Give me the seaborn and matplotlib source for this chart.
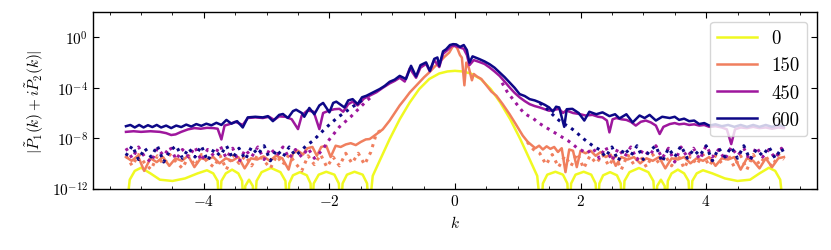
import numpy as np
import pandas as pd
import matplotlib
matplotlib.use("Agg")
import matplotlib.pyplot as plt
from matplotlib.ticker import MultipleLocator, FixedLocator, NullLocator
import seaborn as sns

# values as (k, log10|P1 + i P2|)
times = [0, 150, 450, 600]
colors = ["#f0f921", "#f07f5e", "#9e179d", "#0d0887"]

spec_0 = [
    (-5.24, -14), (-5.18, -11.3), (-5.10, -10.6), (-5.00, -10.35), (-4.85, -10.8), (-4.70, -11.3),
    (-4.50, -11.4), (-4.30, -11.2), (-4.10, -10.8), (-3.95, -10.55), (-3.85, -10.8), (-3.78, -11.4),
    (-3.75, -14), (-3.72, -11.4), (-3.65, -10.8), (-3.55, -10.5), (-3.45, -10.8), (-3.39, -11.4),
    (-3.36, -14), (-3.34, -11.8), (-3.28, -11.3), (-3.22, -11.8), (-3.20, -14), (-3.16, -11.4),
    (-3.08, -10.7), (-2.93, -10.37), (-2.78, -10.7), (-2.70, -11.4), (-2.67, -14), (-2.64, -11.6),
    (-2.58, -10.95), (-2.47, -10.7), (-2.36, -10.95), (-2.30, -11.6), (-2.28, -14), (-2.25, -11.6),
    (-2.17, -10.9), (-2.05, -10.67), (-1.92, -10.9), (-1.85, -11.6), (-1.82, -14), (-1.79, -11.6),
    (-1.72, -10.9), (-1.60, -10.67), (-1.47, -10.9), (-1.40, -11.6), (-1.37, -14), (-1.31, -11.0),
    (-1.20, -9.8), (-1.04, -8.07), (-0.88, -6.5), (-0.72, -5.16), (-0.57, -4.1), (-0.41, -3.3),
    (-0.25, -2.86), (-0.12, -2.7), (0.0, -2.65), (0.12, -2.7), (0.25, -2.86), (0.41, -3.3),
    (0.57, -4.1), (0.72, -5.16), (0.88, -6.5), (1.04, -8.07), (1.20, -9.8), (1.31, -11.0),
    (1.37, -14), (1.40, -11.6), (1.47, -10.9), (1.60, -10.67), (1.72, -10.9), (1.79, -11.6),
    (1.82, -14), (1.85, -11.6), (1.92, -10.9), (2.05, -10.67), (2.17, -10.9), (2.24, -11.6),
    (2.27, -14), (2.30, -11.6), (2.36, -10.95), (2.47, -10.7), (2.58, -10.95), (2.64, -11.6),
    (2.67, -14), (2.70, -11.4), (2.78, -10.7), (2.93, -10.37), (3.08, -10.7), (3.16, -11.4),
    (3.20, -14), (3.22, -11.8), (3.28, -11.3), (3.34, -11.8), (3.36, -14), (3.39, -11.4),
    (3.45, -10.8), (3.55, -10.5), (3.65, -10.8), (3.72, -11.4), (3.75, -14), (3.78, -11.4),
    (3.85, -10.8), (3.95, -10.55), (4.10, -10.8), (4.30, -11.2), (4.50, -11.4), (4.70, -11.3),
    (4.85, -10.8), (5.00, -10.35), (5.10, -10.6), (5.18, -11.3), (5.24, -14),
]

spec_150 = [
    (-5.24, -9.5), (-5.15, -9.8), (-5.05, -9.4), (-4.95, -10.6), (-4.85, -9.6), (-4.75, -9.9),
    (-4.65, -9.5), (-4.55, -10.2), (-4.45, -9.6), (-4.35, -9.8), (-4.25, -9.4), (-4.15, -10.3),
    (-4.05, -9.6), (-3.95, -9.7), (-3.85, -9.5), (-3.75, -10.0), (-3.65, -9.6), (-3.55, -9.8),
    (-3.45, -9.5), (-3.35, -10.4), (-3.25, -9.6), (-3.15, -9.7), (-3.05, -9.45), (-2.95, -9.8),
    (-2.85, -9.4), (-2.75, -9.6), (-2.65, -10.5), (-2.58, -9.2), (-2.50, -9.0), (-2.42, -9.3),
    (-2.35, -8.8), (-2.27, -8.7), (-2.20, -9.4), (-2.13, -8.7), (-2.05, -8.6), (-1.98, -9.5),
    (-1.90, -8.6), (-1.82, -8.7), (-1.74, -8.5), (-1.66, -8.4), (-1.58, -8.55), (-1.50, -8.3),
    (-1.42, -8.1), (-1.36, -8.07), (-1.31, -7.9), (-1.23, -7.6), (-1.15, -7.3), (-1.04, -6.6),
    (-0.96, -6.0), (-0.88, -5.4), (-0.80, -4.9), (-0.72, -4.37), (-0.64, -3.95), (-0.57, -3.57),
    (-0.49, -3.15), (-0.41, -2.78), (-0.33, -2.35), (-0.25, -1.98), (-0.17, -1.55), (-0.09, -1.19),
    (-0.04, -0.75), (0.0, -0.6), (0.04, -0.9), (0.08, -1.4), (0.11, -1.6), (0.15, -3.8),
    (0.18, -2.0), (0.22, -2.4), (0.27, -3.4), (0.30, -2.9), (0.35, -3.1), (0.42, -3.3),
    (0.50, -3.8), (0.58, -4.3), (0.66, -4.63), (0.76, -5.3), (0.87, -6.1), (0.97, -6.9),
    (1.08, -7.8), (1.16, -8.3), (1.22, -8.55), (1.28, -8.8), (1.34, -8.6), (1.40, -8.9),
    (1.46, -8.65), (1.52, -8.85), (1.58, -8.7), (1.64, -9.1), (1.70, -8.8), (1.76, -10.7),
    (1.82, -8.9), (1.88, -9.0), (1.94, -10.3), (2.00, -9.0), (2.08, -9.2), (2.16, -9.0),
    (2.24, -9.4), (2.32, -9.1), (2.40, -9.5), (2.48, -9.3), (2.56, -10.2), (2.65, -9.5),
    (2.75, -9.7), (2.85, -9.5), (2.95, -10.0), (3.05, -9.6), (3.15, -9.8), (3.25, -9.5),
    (3.35, -10.4), (3.45, -9.6), (3.55, -9.7), (3.65, -9.5), (3.75, -10.0), (3.85, -9.6),
    (3.95, -9.8), (4.05, -9.5), (4.15, -10.2), (4.25, -9.6), (4.35, -9.7), (4.45, -9.5),
    (4.55, -10.5), (4.65, -9.6), (4.75, -9.8), (4.85, -10.4), (4.95, -9.6), (5.05, -10.3),
    (5.15, -9.6), (5.24, -9.5),
]

spec_450 = [
    (-5.24, -7.5), (-5.12, -7.45), (-5.00, -7.5), (-4.85, -7.45), (-4.70, -7.5), (-4.60, -7.6),
    (-4.52, -7.75), (-4.45, -7.7), (-4.36, -7.5), (-4.25, -7.3), (-4.15, -7.2), (-4.05, -7.25),
    (-3.95, -7.18), (-3.85, -7.2), (-3.78, -7.25), (-3.72, -8.1), (-3.67, -7.0), (-3.60, -6.9),
    (-3.50, -6.7), (-3.38, -6.95), (-3.30, -6.4), (-3.18, -6.35), (-3.06, -6.4), (-2.96, -6.3),
    (-2.88, -6.55), (-2.80, -6.27), (-2.70, -6.3), (-2.60, -6.5), (-2.50, -7.28), (-2.44, -6.2),
    (-2.35, -5.8), (-2.25, -5.9), (-2.16, -7.28), (-2.10, -6.0), (-2.00, -5.8), (-1.92, -5.7),
    (-1.84, -5.67), (-1.78, -5.9), (-1.70, -5.3), (-1.63, -5.1), (-1.55, -5.4), (-1.45, -4.85),
    (-1.35, -4.6), (-1.25, -4.35), (-1.15, -4.0), (-1.04, -3.65), (-0.96, -3.45), (-0.88, -3.2),
    (-0.80, -3.5), (-0.72, -2.45), (-0.62, -3.2), (-0.55, -2.4), (-0.46, -2.1), (-0.40, -2.7),
    (-0.33, -1.8), (-0.25, -2.35), (-0.19, -1.3), (-0.12, -1.0), (-0.05, -0.65), (0.02, -0.7),
    (0.08, -0.8), (0.14, -0.9), (0.19, -1.4), (0.23, -2.2), (0.30, -1.8), (0.39, -1.95),
    (0.47, -2.1), (0.55, -2.38), (0.63, -2.7), (0.71, -3.05), (0.79, -3.5), (0.87, -3.97),
    (0.95, -4.4), (1.03, -4.76), (1.11, -5.05), (1.19, -5.3), (1.27, -5.45), (1.35, -5.56),
    (1.43, -5.7), (1.50, -5.82), (1.58, -5.75), (1.66, -5.67), (1.72, -6.0), (1.77, -5.8),
    (1.88, -6.0), (1.98, -6.08), (2.08, -6.2), (2.19, -6.15), (2.28, -6.3), (2.35, -6.35),
    (2.42, -6.6), (2.46, -7.54), (2.51, -6.5), (2.57, -6.4), (2.65, -6.5), (2.73, -6.55),
    (2.80, -6.7), (2.88, -7.0), (2.96, -6.7), (3.04, -6.6), (3.12, -6.75), (3.20, -7.0),
    (3.26, -7.67), (3.32, -7.1), (3.42, -6.88), (3.50, -6.8), (3.57, -6.9), (3.65, -6.85),
    (3.73, -6.95), (3.81, -6.9), (3.89, -7.0), (3.97, -6.95), (4.05, -7.1), (4.15, -7.05),
    (4.25, -7.15), (4.33, -7.3), (4.40, -8.47), (4.46, -7.3), (4.55, -7.15), (4.65, -7.2),
    (4.75, -7.1), (4.85, -7.2), (4.95, -7.15), (5.05, -7.25), (5.15, -7.15), (5.24, -7.2),
]

spec_600 = [
    (-5.24, -7.05), (-5.17, -6.95), (-5.10, -7.15), (-5.03, -6.95), (-4.96, -7.15), (-4.89, -6.97),
    (-4.82, -7.12), (-4.75, -6.95), (-4.68, -7.15), (-4.60, -7.0), (-4.52, -7.2), (-4.44, -7.0),
    (-4.36, -7.12), (-4.28, -6.92), (-4.20, -7.08), (-4.12, -6.88), (-4.04, -7.02), (-3.96, -6.85),
    (-3.88, -6.98), (-3.80, -6.78), (-3.72, -6.95), (-3.64, -6.55), (-3.56, -6.85), (-3.47, -6.65),
    (-3.38, -7.15), (-3.30, -6.35), (-3.18, -6.3), (-3.06, -6.35), (-2.98, -6.25), (-2.90, -6.65),
    (-2.80, -6.15), (-2.74, -6.08), (-2.66, -6.4), (-2.58, -5.85), (-2.53, -5.74), (-2.44, -6.0),
    (-2.40, -6.3), (-2.32, -5.6), (-2.24, -6.1), (-2.16, -5.4), (-2.10, -5.2), (-2.00, -5.95),
    (-1.94, -5.2), (-1.89, -5.1), (-1.76, -5.56), (-1.70, -5.0), (-1.63, -4.9), (-1.55, -5.3),
    (-1.48, -4.75), (-1.41, -4.63), (-1.30, -4.35), (-1.20, -4.1), (-1.12, -3.85), (-1.04, -3.52),
    (-0.96, -3.35), (-0.88, -3.05), (-0.78, -3.3), (-0.70, -2.25), (-0.62, -3.1), (-0.55, -2.2),
    (-0.46, -1.98), (-0.40, -2.65), (-0.33, -1.7), (-0.28, -1.59), (-0.25, -2.25), (-0.19, -1.1),
    (-0.14, -0.93), (-0.08, -0.6), (-0.03, -0.53), (0.02, -0.55), (0.08, -0.75), (0.14, -0.6),
    (0.19, -1.0), (0.23, -2.0), (0.28, -1.5), (0.39, -1.72), (0.47, -1.9), (0.55, -2.12),
    (0.63, -2.4), (0.71, -2.78), (0.79, -3.15), (0.87, -3.57), (0.95, -4.0), (1.03, -4.5),
    (1.11, -4.65), (1.19, -4.9), (1.27, -5.0), (1.35, -5.16), (1.43, -5.35), (1.50, -5.56),
    (1.56, -5.9), (1.61, -5.5), (1.66, -5.56), (1.74, -7.1), (1.78, -5.7), (1.87, -5.67),
    (1.97, -6.0), (2.06, -6.6), (2.14, -5.9), (2.25, -6.1), (2.35, -5.95), (2.46, -6.25),
    (2.55, -6.1), (2.62, -6.43), (2.73, -6.1), (2.83, -6.75), (2.94, -6.2), (3.02, -6.4),
    (3.10, -6.15), (3.20, -6.6), (3.30, -6.3), (3.42, -6.4), (3.50, -6.3), (3.57, -6.55),
    (3.65, -6.45), (3.73, -6.65), (3.81, -6.6), (3.89, -6.88), (3.97, -6.8), (4.05, -7.0),
    (4.15, -6.9), (4.25, -7.05), (4.35, -6.95), (4.45, -7.1), (4.55, -6.95), (4.65, -7.1),
    (4.75, -6.95), (4.85, -7.1), (4.95, -6.95), (5.05, -7.1), (5.15, -6.95), (5.24, -7.05),
]

# dotted curves: only the tails, the centre sits under the solid lines
dots_150_left = [
    (-5.24, -9.4), (-5.14, -10.2), (-5.04, -9.3), (-4.94, -10.0), (-4.84, -10.5), (-4.74, -9.4),
    (-4.64, -10.1), (-4.54, -9.3), (-4.44, -9.9), (-4.34, -10.4), (-4.24, -9.4), (-4.14, -10.2),
    (-4.04, -9.3), (-3.94, -9.9), (-3.84, -10.3), (-3.74, -9.4), (-3.64, -10.5), (-3.54, -9.3),
    (-3.44, -10.0), (-3.34, -9.4), (-3.24, -10.2), (-3.14, -9.3), (-3.04, -9.8), (-2.94, -10.4),
    (-2.84, -9.4), (-2.74, -10.1), (-2.64, -9.3), (-2.54, -10.0), (-2.44, -10.6), (-2.34, -9.4),
    (-2.24, -10.1), (-2.14, -9.3), (-2.04, -10.3), (-1.94, -9.5), (-1.84, -10.2), (-1.74, -9.2),
    (-1.64, -10.0), (-1.54, -9.2), (-1.44, -10.1), (-1.34, -9.1), (-1.25, -7.6), (-1.15, -7.3),
]
dots_150_right = [
    (1.15, -8.3), (1.25, -8.9), (1.35, -9.2), (1.45, -10.1), (1.55, -9.3), (1.65, -10.3),
    (1.75, -9.4), (1.85, -10.2), (1.95, -9.2), (2.05, -10.4), (2.15, -9.4), (2.25, -10.0),
    (2.35, -9.3), (2.45, -10.2), (2.55, -9.4), (2.65, -10.5), (2.75, -9.3), (2.85, -10.1),
    (2.95, -9.4), (3.05, -10.3), (3.15, -9.3), (3.25, -10.0), (3.35, -9.4), (3.45, -10.2),
    (3.55, -9.3), (3.65, -10.4), (3.75, -9.4), (3.85, -10.1), (3.95, -9.3), (4.05, -10.2),
    (4.15, -9.4), (4.25, -10.0), (4.35, -9.3), (4.45, -10.3), (4.55, -9.4), (4.65, -10.5),
    (4.75, -9.3), (4.85, -10.1), (4.95, -9.4), (5.05, -10.3), (5.15, -9.3), (5.24, -9.7),
]

dots_450_left = [
    (-5.24, -8.8), (-5.14, -9.6), (-5.04, -8.7), (-4.94, -9.5), (-4.84, -9.9), (-4.74, -8.8),
    (-4.64, -9.4), (-4.54, -8.7), (-4.44, -9.7), (-4.34, -8.9), (-4.24, -9.5), (-4.14, -8.7),
    (-4.04, -9.8), (-3.94, -8.9), (-3.84, -9.4), (-3.74, -8.6), (-3.64, -9.6), (-3.54, -8.8),
    (-3.44, -9.9), (-3.34, -8.9), (-3.24, -9.5), (-3.14, -8.7), (-3.04, -9.7), (-2.94, -8.8),
    (-2.84, -9.4), (-2.74, -8.7), (-2.64, -9.6), (-2.54, -8.9), (-2.44, -9.5), (-2.34, -8.8),
    (-2.24, -9.6), (-2.16, -9.2), (-2.08, -8.7), (-2.00, -8.1), (-1.92, -7.6), (-1.84, -7.1),
    (-1.75, -6.7), (-1.66, -6.3), (-1.58, -5.9), (-1.50, -5.5), (-1.40, -5.0), (-1.30, -4.6),
]
dots_450_right = [
    (0.75, -3.6), (0.83, -4.3), (0.90, -4.76), (1.00, -5.4), (1.08, -5.9), (1.16, -6.2),
    (1.24, -6.4), (1.32, -6.75), (1.40, -7.0), (1.50, -7.3), (1.60, -7.6), (1.70, -7.9),
    (1.80, -8.2), (1.88, -8.5), (1.95, -8.8), (2.03, -9.0), (2.10, -9.2), (2.20, -8.8),
    (2.30, -9.6), (2.40, -8.7), (2.50, -9.8), (2.60, -8.8), (2.70, -9.5), (2.80, -8.7),
    (2.90, -9.7), (3.00, -8.9), (3.10, -9.4), (3.20, -8.6), (3.30, -9.6), (3.40, -8.8),
    (3.50, -9.9), (3.60, -8.7), (3.70, -9.5), (3.80, -8.8), (3.90, -9.7), (4.00, -8.6),
    (4.10, -9.5), (4.20, -8.9), (4.30, -9.7), (4.40, -8.7), (4.50, -9.4), (4.60, -8.8),
    (4.70, -9.8), (4.80, -8.7), (4.90, -9.5), (5.00, -8.9), (5.10, -9.6), (5.20, -8.8),
    (5.24, -9.2),
]

dots_600_left = [
    (-5.24, -9.4), (-5.14, -8.6), (-5.04, -9.7), (-4.94, -8.8), (-4.84, -9.5), (-4.74, -8.6),
    (-4.64, -9.9), (-4.54, -9.0), (-4.44, -8.6), (-4.34, -9.6), (-4.24, -8.8), (-4.14, -9.5),
    (-4.04, -8.6), (-3.94, -9.8), (-3.84, -8.9), (-3.74, -9.4), (-3.64, -8.6), (-3.54, -9.6),
    (-3.44, -8.8), (-3.34, -9.7), (-3.24, -8.7), (-3.14, -9.3), (-3.04, -8.6), (-2.94, -9.8),
    (-2.84, -8.9), (-2.74, -9.5), (-2.64, -8.7), (-2.54, -9.4), (-2.45, -9.0), (-2.37, -8.6),
    (-2.26, -8.2), (-2.16, -7.7), (-2.06, -7.2), (-1.95, -6.7), (-1.84, -6.25), (-1.74, -5.9),
    (-1.63, -5.5), (-1.55, -5.25), (-1.45, -4.85),
]
dots_600_right = [
    (1.35, -5.2), (1.45, -5.6), (1.55, -6.1), (1.66, -6.6), (1.75, -6.9), (1.82, -7.1),
    (1.90, -7.4), (1.98, -7.75), (2.06, -8.1), (2.14, -8.4), (2.22, -8.7), (2.30, -8.9),
    (2.40, -9.5), (2.50, -8.7), (2.60, -9.8), (2.70, -8.8), (2.80, -9.4), (2.90, -8.6),
    (3.00, -9.7), (3.10, -9.0), (3.20, -8.6), (3.30, -9.9), (3.40, -8.8), (3.50, -9.5),
    (3.60, -8.6), (3.70, -9.6), (3.80, -8.9), (3.90, -9.4), (4.00, -8.6), (4.10, -9.8),
    (4.20, -8.8), (4.30, -9.5), (4.40, -8.7), (4.50, -9.6), (4.60, -8.6), (4.70, -9.7),
    (4.80, -8.9), (4.90, -9.4), (5.00, -8.7), (5.10, -9.6), (5.20, -8.8), (5.24, -9.2),
]

solid = {0: spec_0, 150: spec_150, 450: spec_450, 600: spec_600}
dotted = {150: [dots_150_left, dots_150_right],
          450: [dots_450_left, dots_450_right],
          600: [dots_600_left, dots_600_right]}


def to_frame(pairs):
    d = pd.DataFrame(pairs, columns=["k", "logp"])
    d["p"] = 10.0 ** d["logp"]
    return d


plt.rcParams.update({
    "font.family": "serif",
    "font.serif": ["cmr10", "DejaVu Serif"],
    "mathtext.fontset": "cm",
    "axes.formatter.use_mathtext": True,
    "font.size": 11,
    "axes.linewidth": 1.0,
})

fig, ax = plt.subplots(figsize=(8.31, 2.51), dpi=100)
fig.subplots_adjust(left=0.112, right=0.983, bottom=0.245, top=0.947)

handles = []
for t, c in zip(times, colors):
    sns.lineplot(data=to_frame(solid[t]), x="k", y="p", color=c, lw=1.8,
                 sort=False, estimator=None, ax=ax)
    handles.append(ax.lines[-1])
    for part in dotted.get(t, []):
        sns.lineplot(data=to_frame(part), x="k", y="p", color=c, lw=2.2,
                     linestyle=":", sort=False, estimator=None, ax=ax)

ax.set_yscale("log")
ax.set_ylim(1e-12, 1e2)
ax.set_xlim(-5.764, 5.764)
ax.yaxis.set_major_locator(FixedLocator([1e-12, 1e-8, 1e-4, 1e0]))
ax.yaxis.set_minor_locator(NullLocator())
ax.xaxis.set_major_locator(MultipleLocator(2))
ax.xaxis.set_minor_locator(MultipleLocator(0.5))
ax.tick_params(which="both", direction="in", top=True, right=True)
ax.tick_params(which="major", length=4.5)
ax.tick_params(which="minor", length=2.5)

ax.set_xlabel(r"$k$")
ax.set_ylabel(r"$|\tilde{P}_1(k) + i\tilde{P}_2(k)|$")
ax.legend(handles, [str(t) for t in times], loc="upper right", fontsize=13.5,
          handlelength=2.1)

fig.savefig("out.png", dpi=100)
